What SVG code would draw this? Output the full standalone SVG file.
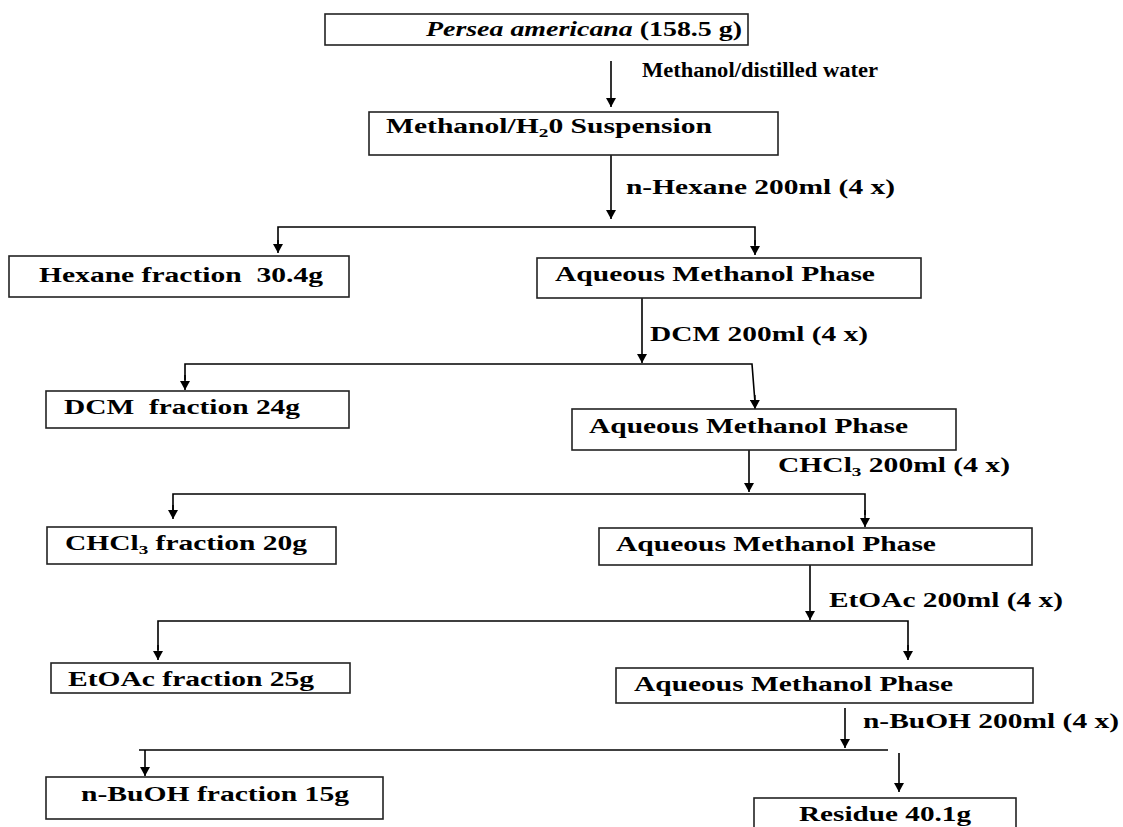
<svg xmlns="http://www.w3.org/2000/svg" width="1123" height="827" viewBox="0 0 1123 827">
<defs>
<marker id="ah" markerUnits="userSpaceOnUse" markerWidth="9" markerHeight="10" viewBox="0 0 9 10" refX="9" refY="5" orient="auto">
<path d="M0,0 L9,5 L0,10 Z" fill="#000"/>
</marker>
<style>
.box{fill:#fff;stroke:#222;stroke-width:1.6}
.t{font-family:"Liberation Serif","Times New Roman",serif;font-weight:bold;font-size:20px;fill:#000;white-space:pre}
.ln{fill:none;stroke:#000;stroke-width:1.6}
.ar{fill:none;stroke:#000;stroke-width:1.6}
</style>
</defs>
<rect width="1123" height="827" fill="#fff"/>
<g id="connectors">
<line class="ar" x1="611" y1="61" x2="611" y2="107" marker-end="url(#ah)"/>
<line class="ar" x1="611" y1="155" x2="611" y2="219" marker-end="url(#ah)"/>
<polyline class="ln" points="278,245 278,227 755,227 755,245"/>
<line class="ar" x1="278" y1="240" x2="278" y2="253" marker-end="url(#ah)"/>
<line class="ar" x1="755" y1="240" x2="755" y2="255" marker-end="url(#ah)"/>
<line class="ar" x1="642" y1="298" x2="642" y2="363" marker-end="url(#ah)"/>
<polyline class="ln" points="185,380 185,364 752,364 754.8,400"/>
<line class="ar" x1="185" y1="375" x2="185" y2="390" marker-end="url(#ah)"/>
<line class="ar" x1="754.8" y1="395" x2="755" y2="409" marker-end="url(#ah)"/>
<line class="ar" x1="749" y1="450" x2="749" y2="492" marker-end="url(#ah)"/>
<polyline class="ln" points="173,510 173,494 865,494 865,515"/>
<line class="ar" x1="173" y1="505" x2="173" y2="519" marker-end="url(#ah)"/>
<line class="ar" x1="865" y1="510" x2="865" y2="527" marker-end="url(#ah)"/>
<line class="ar" x1="810" y1="565" x2="810" y2="620" marker-end="url(#ah)"/>
<polyline class="ln" points="158,650 158,621 908,621 908,650"/>
<line class="ar" x1="158" y1="645" x2="158" y2="660" marker-end="url(#ah)"/>
<line class="ar" x1="908" y1="645" x2="908" y2="660" marker-end="url(#ah)"/>
<line class="ar" x1="845" y1="708" x2="845" y2="748" marker-end="url(#ah)"/>
<polyline class="ln" points="139,750 888,750"/>
<line class="ar" x1="145" y1="750" x2="145" y2="776" marker-end="url(#ah)"/>
<line class="ar" x1="899" y1="753" x2="899" y2="792" marker-end="url(#ah)"/>
<text class="t" x="642" y="77" textLength="236" lengthAdjust="spacingAndGlyphs">Methanol/distilled water</text>
<text class="t" x="626" y="194" textLength="269" lengthAdjust="spacingAndGlyphs">n-Hexane 200ml (4 x)</text>
<text class="t" x="650" y="341" textLength="218" lengthAdjust="spacingAndGlyphs">DCM 200ml (4 x)</text>
<text class="t" x="778" y="472" textLength="232" lengthAdjust="spacingAndGlyphs">CHCl<tspan font-size="13" dy="4">3</tspan><tspan dy="-4"> 200ml (4 x)</tspan></text>
<text class="t" x="829" y="607" textLength="234" lengthAdjust="spacingAndGlyphs">EtOAc 200ml (4 x)</text>
<text class="t" x="863" y="728" textLength="256" lengthAdjust="spacingAndGlyphs">n-BuOH 200ml (4 x)</text>
</g>
<g id="n-persea">
<rect class="box" x="325" y="14" width="423" height="31"/>
<text class="t" x="426" y="36" textLength="316" lengthAdjust="spacingAndGlyphs"><tspan font-style="italic">Persea americana</tspan> (158.5 g)</text>
</g>
<g id="n-suspension">
<rect class="box" x="369" y="112" width="409" height="43"/>
<text class="t" x="386" y="133" textLength="326" lengthAdjust="spacingAndGlyphs">Methanol/H<tspan font-size="13" dy="4">2</tspan><tspan dy="-4">0 Suspension</tspan></text>
</g>
<g id="n-hexane">
<rect class="box" x="9" y="256" width="340" height="41"/>
<text class="t" x="39" y="282" textLength="284" lengthAdjust="spacingAndGlyphs">Hexane fraction  30.4g</text>
</g>
<g id="n-aq1">
<rect class="box" x="537" y="258" width="384" height="40"/>
<text class="t" x="555" y="281" textLength="320" lengthAdjust="spacingAndGlyphs">Aqueous Methanol Phase</text>
</g>
<g id="n-dcm">
<rect class="box" x="46" y="391" width="303" height="37"/>
<text class="t" x="64" y="414" textLength="236" lengthAdjust="spacingAndGlyphs">DCM  fraction 24g</text>
</g>
<g id="n-aq2">
<rect class="box" x="572" y="409" width="384" height="41"/>
<text class="t" x="589" y="433" textLength="319" lengthAdjust="spacingAndGlyphs">Aqueous Methanol Phase</text>
</g>
<g id="n-chcl3">
<rect class="box" x="47" y="527" width="289" height="37"/>
<text class="t" x="65" y="550" textLength="242" lengthAdjust="spacingAndGlyphs">CHCl<tspan font-size="13" dy="4">3</tspan><tspan dy="-4"> fraction 20g</tspan></text>
</g>
<g id="n-aq3">
<rect class="box" x="599" y="528" width="433" height="37"/>
<text class="t" x="616" y="551" textLength="320" lengthAdjust="spacingAndGlyphs">Aqueous Methanol Phase</text>
</g>
<g id="n-etoac">
<rect class="box" x="51" y="663" width="299" height="30"/>
<text class="t" x="68" y="686" textLength="246" lengthAdjust="spacingAndGlyphs">EtOAc fraction 25g</text>
</g>
<g id="n-aq4">
<rect class="box" x="616" y="668" width="417" height="35"/>
<text class="t" x="634" y="691" textLength="319" lengthAdjust="spacingAndGlyphs">Aqueous Methanol Phase</text>
</g>
<g id="n-nbuoh">
<rect class="box" x="46" y="777" width="337" height="42"/>
<text class="t" x="81" y="801" textLength="268" lengthAdjust="spacingAndGlyphs">n-BuOH fraction 15g</text>
</g>
<g id="n-residue">
<rect class="box" x="754" y="798" width="262" height="40"/>
<text class="t" x="799" y="821" textLength="172" lengthAdjust="spacingAndGlyphs">Residue 40.1g</text>
</g>
</svg>
